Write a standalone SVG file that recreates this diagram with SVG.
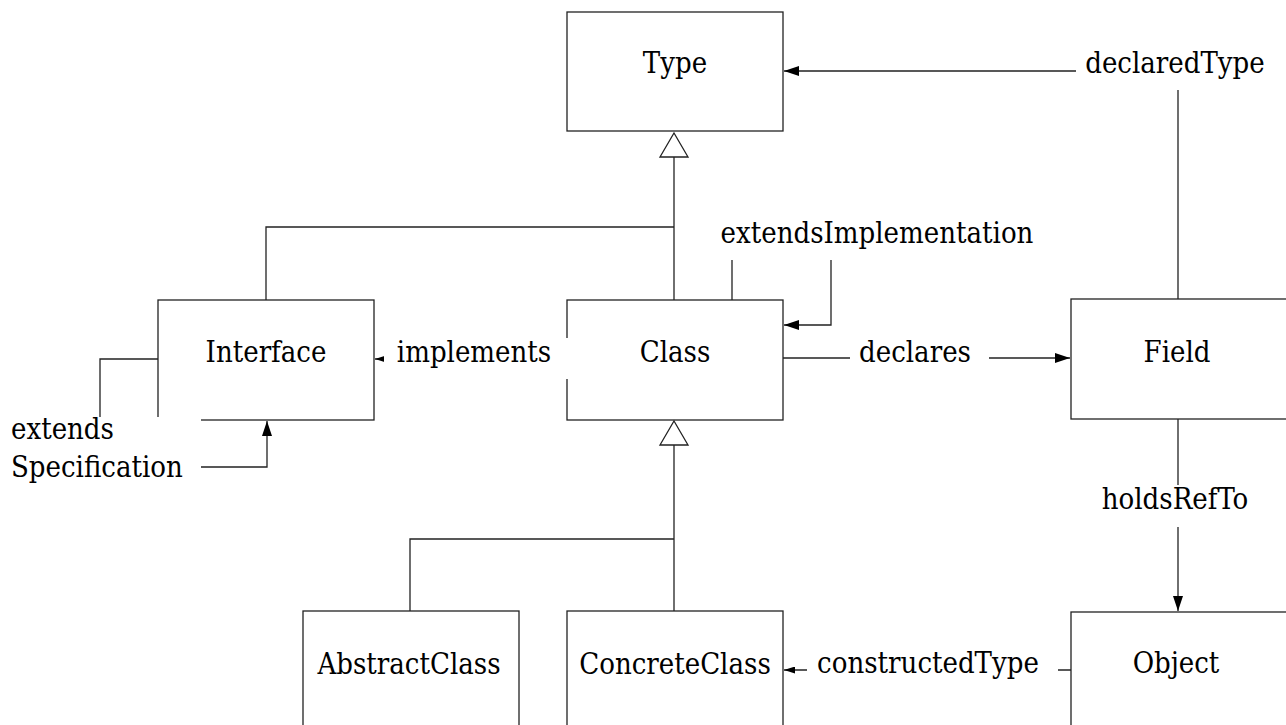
<svg xmlns="http://www.w3.org/2000/svg" width="1286" height="725" viewBox="0 0 1286 725">
<style>
.box{fill:#fff;stroke:#222;stroke-width:1.3}
.ln{fill:none;stroke:#222;stroke-width:1.3}
.tri{fill:#fff;stroke:#222;stroke-width:1.3}
.bg{fill:#fff;stroke:none}
text{font-family:"DejaVu Serif Condensed","DejaVu Serif",serif;font-stretch:condensed;font-size:29px;fill:#000}
.c{text-anchor:middle}
</style>
<defs>
<marker id="arr" viewBox="0 0 15 10" refX="15" refY="5" markerWidth="15" markerHeight="10" markerUnits="userSpaceOnUse" orient="auto"><path d="M0,0 L15,5 L0,10 z" fill="#000"/></marker>
<marker id="arrs" viewBox="0 0 11 7" refX="11" refY="3.5" markerWidth="11" markerHeight="7" markerUnits="userSpaceOnUse" orient="auto"><path d="M0,0 L11,3.5 L0,7 z" fill="#000"/></marker>
</defs>
<rect width="1286" height="725" fill="#fff"/>
<g id="node-type"><rect class="box" x="567" y="12" width="216" height="119"/><text class="c" x="675" y="73">Type</text></g>
<g id="node-interface"><rect class="box" x="158" y="300" width="216" height="120"/><text class="c" x="266" y="362">Interface</text></g>
<g id="node-class"><rect class="box" x="567" y="300" width="216" height="120"/><text class="c" x="675" y="362">Class</text></g>
<g id="node-field"><rect class="box" x="1071" y="299" width="216" height="120"/><text class="c" x="1177" y="362">Field</text></g>
<g id="node-abstractclass"><rect class="box" x="303" y="611" width="216" height="120"/><text class="c" x="409" y="674">AbstractClass</text></g>
<g id="node-concreteclass"><rect class="box" x="567" y="611" width="216" height="120"/><text class="c" x="675" y="674">ConcreteClass</text></g>
<g id="node-object"><rect class="box" x="1071" y="612" width="216" height="120"/><text class="c" x="1176" y="673">Object</text></g>
<g id="connectors">
<path class="ln" d="M266,300 V227 H674"/>
<path class="ln" d="M674,300 V157"/>
<polygon class="tri" points="674,133 688,157 660,157"/>
<path class="ln" d="M410,611 V539 H674"/>
<path class="ln" d="M674,611 V445"/>
<polygon class="tri" points="674,421 688,445 660,445"/>
<path class="ln" d="M1178,299 V71 H784" marker-end="url(#arr)"/>
<path class="ln" d="M732,300 V240 H831 V325 H784" marker-end="url(#arr)"/>
<path class="ln" d="M567,359 H375" marker-end="url(#arrs)"/>
<path class="ln" d="M783,358 H1070" marker-end="url(#arr)"/>
<path class="ln" d="M158,359 H100 V467 H267 V421" marker-end="url(#arr)"/>
<path class="ln" d="M1178,419 V611" marker-end="url(#arr)"/>
<path class="ln" d="M1071,670 H784" marker-end="url(#arrs)"/>
</g>
<g id="labels">
<rect class="bg" x="1076" y="48" width="210" height="42"/><text class="c" x="1175" y="73">declaredType</text>
<rect class="bg" x="707" y="219" width="349" height="41"/><text class="c" x="877" y="243">extendsImplementation</text>
<rect class="bg" x="384" y="338" width="188" height="41"/><text class="c" x="474" y="362">implements</text>
<rect class="bg" x="850" y="338" width="139" height="41"/><text class="c" x="915" y="362">declares</text>
<rect class="bg" x="0" y="417" width="201" height="70"/><text x="11" y="439">extends</text><text x="11" y="477">Specification</text>
<rect class="bg" x="1090" y="485" width="178" height="42"/><text class="c" x="1175" y="509">holdsRefTo</text>
<rect class="bg" x="807" y="650" width="251" height="41"/><text class="c" x="928" y="673">constructedType</text>
</g>
</svg>
